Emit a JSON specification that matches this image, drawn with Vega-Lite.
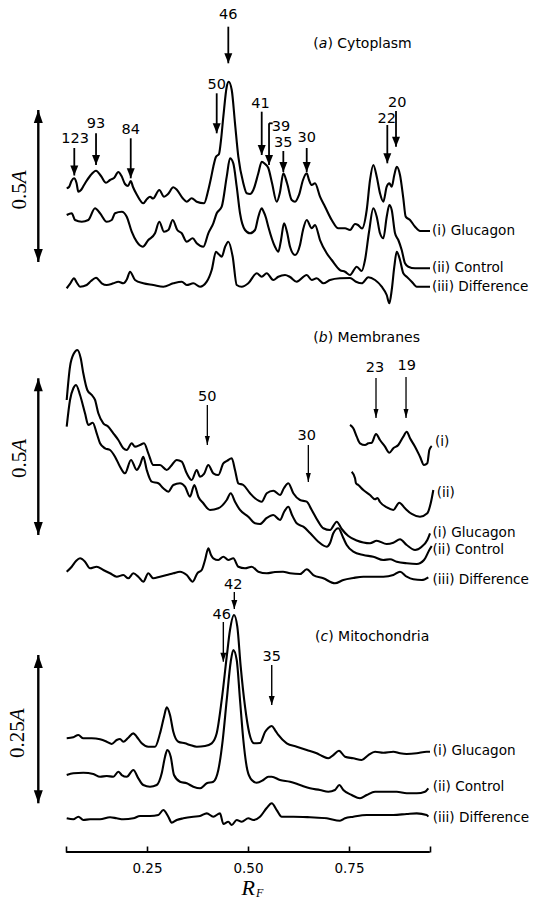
{
"$schema":"https://vega.github.io/schema/vega-lite/v6.json",
"background":"white",
"padding":0,
"spacing":0,
"bounds":"flush",
"config":{"view":{"stroke":null},"font":"DejaVu Sans"},
"datasets":{
"traces":[
{"panel":"a","series":"i","rf":0.0512,"a":0.3806},{"panel":"a","series":"i","rf":0.0569,"a":0.3849},{"panel":"a","series":"i","rf":0.0631,"a":0.4046},{"panel":"a","series":"i","rf":0.0693,"a":0.4135},{"panel":"a","series":"i","rf":0.0755,"a":0.398},{"panel":"a","series":"i","rf":0.08,"a":0.3694},{"panel":"a","series":"i","rf":0.0866,"a":0.375},{"panel":"a","series":"i","rf":0.0941,"a":0.3914},{"panel":"a","series":"i","rf":0.1089,"a":0.4211},{"panel":"a","series":"i","rf":0.1238,"a":0.4385},{"panel":"a","series":"i","rf":0.1361,"a":0.4211},{"panel":"a","series":"i","rf":0.1485,"a":0.399},{"panel":"a","series":"i","rf":0.1584,"a":0.4079},{"panel":"a","series":"i","rf":0.1683,"a":0.4145},{"panel":"a","series":"i","rf":0.179,"a":0.4342},{"panel":"a","series":"i","rf":0.1869,"a":0.4211},{"panel":"a","series":"i","rf":0.1955,"a":0.3947},{"panel":"a","series":"i","rf":0.203,"a":0.3882},{"panel":"a","series":"i","rf":0.2097,"a":0.4046},{"panel":"a","series":"i","rf":0.2153,"a":0.3849},{"panel":"a","series":"i","rf":0.2252,"a":0.3586},{"panel":"a","series":"i","rf":0.2408,"a":0.3313},{"panel":"a","series":"i","rf":0.25,"a":0.3454},{"panel":"a","series":"i","rf":0.2574,"a":0.353},{"panel":"a","series":"i","rf":0.2649,"a":0.347},{"panel":"a","series":"i","rf":0.2804,"a":0.375},{"panel":"a","series":"i","rf":0.2921,"a":0.353},{"panel":"a","series":"i","rf":0.302,"a":0.3618},{"panel":"a","series":"i","rf":0.3151,"a":0.3839},{"panel":"a","series":"i","rf":0.3243,"a":0.375},{"panel":"a","series":"i","rf":0.3384,"a":0.3477},{"panel":"a","series":"i","rf":0.3483,"a":0.3365},{"panel":"a","series":"i","rf":0.3606,"a":0.3477},{"panel":"a","series":"i","rf":0.373,"a":0.3365},{"panel":"a","series":"i","rf":0.3911,"a":0.3313},{"panel":"a","series":"i","rf":0.4017,"a":0.375},{"panel":"a","series":"i","rf":0.4084,"a":0.4145},{"panel":"a","series":"i","rf":0.4141,"a":0.4516},{"panel":"a","series":"i","rf":0.4208,"a":0.4845},{"panel":"a","series":"i","rf":0.4282,"a":0.4934},{"panel":"a","series":"i","rf":0.4332,"a":0.5395},{"panel":"a","series":"i","rf":0.4389,"a":0.6161},{"panel":"a","series":"i","rf":0.4473,"a":0.7148},{"panel":"a","series":"i","rf":0.4522,"a":0.7313},{"panel":"a","series":"i","rf":0.4597,"a":0.7039},{"panel":"a","series":"i","rf":0.4678,"a":0.5944},{"panel":"a","series":"i","rf":0.476,"a":0.4845},{"panel":"a","series":"i","rf":0.4884,"a":0.397},{"panel":"a","series":"i","rf":0.4968,"a":0.3641},{"panel":"a","series":"i","rf":0.505,"a":0.3618},{"panel":"a","series":"i","rf":0.5131,"a":0.375},{"panel":"a","series":"i","rf":0.5255,"a":0.4299},{"panel":"a","series":"i","rf":0.5339,"a":0.4681},{"panel":"a","series":"i","rf":0.5421,"a":0.4605},{"panel":"a","series":"i","rf":0.5502,"a":0.4474},{"panel":"a","series":"i","rf":0.5594,"a":0.398},{"panel":"a","series":"i","rf":0.571,"a":0.3365},{"panel":"a","series":"i","rf":0.5792,"a":0.3684},{"panel":"a","series":"i","rf":0.5874,"a":0.4299},{"panel":"a","series":"i","rf":0.5965,"a":0.398},{"panel":"a","series":"i","rf":0.6082,"a":0.3421},{"panel":"a","series":"i","rf":0.6163,"a":0.3365},{"panel":"a","series":"i","rf":0.6262,"a":0.3586},{"panel":"a","series":"i","rf":0.6361,"a":0.4079},{"panel":"a","series":"i","rf":0.6453,"a":0.4299},{"panel":"a","series":"i","rf":0.651,"a":0.4079},{"panel":"a","series":"i","rf":0.6577,"a":0.3914},{"panel":"a","series":"i","rf":0.6658,"a":0.397},{"panel":"a","series":"i","rf":0.6782,"a":0.353},{"panel":"a","series":"i","rf":0.6906,"a":0.3201},{"panel":"a","series":"i","rf":0.7072,"a":0.2763},{"panel":"a","series":"i","rf":0.7235,"a":0.249},{"panel":"a","series":"i","rf":0.7401,"a":0.249},{"panel":"a","series":"i","rf":0.7525,"a":0.2434},{"panel":"a","series":"i","rf":0.7649,"a":0.2632},{"panel":"a","series":"i","rf":0.7723,"a":0.2599},{"panel":"a","series":"i","rf":0.7822,"a":0.2484},{"panel":"a","series":"i","rf":0.7938,"a":0.3092},{"panel":"a","series":"i","rf":0.802,"a":0.4079},{"panel":"a","series":"i","rf":0.8101,"a":0.4572},{"panel":"a","series":"i","rf":0.8186,"a":0.4188},{"panel":"a","series":"i","rf":0.8267,"a":0.3641},{"panel":"a","series":"i","rf":0.8349,"a":0.3365},{"panel":"a","series":"i","rf":0.8433,"a":0.3859},{"panel":"a","series":"i","rf":0.8498,"a":0.397},{"panel":"a","series":"i","rf":0.8557,"a":0.3859},{"panel":"a","series":"i","rf":0.8621,"a":0.4243},{"panel":"a","series":"i","rf":0.8681,"a":0.4516},{"panel":"a","series":"i","rf":0.8762,"a":0.4243},{"panel":"a","series":"i","rf":0.8844,"a":0.3477},{"panel":"a","series":"i","rf":0.8903,"a":0.2872},{"panel":"a","series":"i","rf":0.901,"a":0.2763},{"panel":"a","series":"i","rf":0.9134,"a":0.2543},{"panel":"a","series":"i","rf":0.9257,"a":0.2401},{"panel":"a","series":"i","rf":0.9505,"a":0.2401},
{"panel":"a","series":"ii","rf":0.0512,"a":0.2928},{"panel":"a","series":"ii","rf":0.0636,"a":0.2984},{"panel":"a","series":"ii","rf":0.0718,"a":0.2763},{"panel":"a","series":"ii","rf":0.0884,"a":0.2707},{"panel":"a","series":"ii","rf":0.1047,"a":0.2763},{"panel":"a","series":"ii","rf":0.1213,"a":0.3148},{"panel":"a","series":"ii","rf":0.1337,"a":0.2984},{"panel":"a","series":"ii","rf":0.1502,"a":0.2707},{"panel":"a","series":"ii","rf":0.1626,"a":0.2763},{"panel":"a","series":"ii","rf":0.1708,"a":0.2984},{"panel":"a","series":"ii","rf":0.1874,"a":0.3036},{"panel":"a","series":"ii","rf":0.1998,"a":0.2872},{"panel":"a","series":"ii","rf":0.2121,"a":0.2378},{"panel":"a","series":"ii","rf":0.2245,"a":0.2049},{"panel":"a","series":"ii","rf":0.2394,"a":0.1885},{"panel":"a","series":"ii","rf":0.2532,"a":0.2105},{"panel":"a","series":"ii","rf":0.2698,"a":0.2326},{"panel":"a","series":"ii","rf":0.2804,"a":0.2707},{"panel":"a","series":"ii","rf":0.2921,"a":0.2378},{"panel":"a","series":"ii","rf":0.3027,"a":0.2434},{"panel":"a","series":"ii","rf":0.3136,"a":0.2763},{"panel":"a","series":"ii","rf":0.325,"a":0.2434},{"panel":"a","series":"ii","rf":0.3359,"a":0.2326},{"panel":"a","series":"ii","rf":0.3483,"a":0.2049},{"panel":"a","series":"ii","rf":0.3631,"a":0.2161},{"panel":"a","series":"ii","rf":0.373,"a":0.1997},{"panel":"a","series":"ii","rf":0.3894,"a":0.1885},{"panel":"a","series":"ii","rf":0.4017,"a":0.2326},{"panel":"a","series":"ii","rf":0.4141,"a":0.2655},{"panel":"a","series":"ii","rf":0.4225,"a":0.2984},{"panel":"a","series":"ii","rf":0.4349,"a":0.3201},{"panel":"a","series":"ii","rf":0.4473,"a":0.4188},{"panel":"a","series":"ii","rf":0.4554,"a":0.4793},{"panel":"a","series":"ii","rf":0.4636,"a":0.4628},{"panel":"a","series":"ii","rf":0.472,"a":0.3859},{"panel":"a","series":"ii","rf":0.4802,"a":0.2984},{"panel":"a","series":"ii","rf":0.4926,"a":0.2434},{"panel":"a","series":"ii","rf":0.505,"a":0.2326},{"panel":"a","series":"ii","rf":0.5173,"a":0.2434},{"panel":"a","series":"ii","rf":0.5248,"a":0.2829},{"panel":"a","series":"ii","rf":0.5339,"a":0.3148},{"panel":"a","series":"ii","rf":0.5379,"a":0.3059},{"panel":"a","series":"ii","rf":0.5446,"a":0.2829},{"panel":"a","series":"ii","rf":0.5502,"a":0.2543},{"panel":"a","series":"ii","rf":0.5668,"a":0.1885},{"panel":"a","series":"ii","rf":0.575,"a":0.172},{"panel":"a","series":"ii","rf":0.5817,"a":0.2105},{"panel":"a","series":"ii","rf":0.5891,"a":0.2655},{"panel":"a","series":"ii","rf":0.5965,"a":0.2368},{"panel":"a","series":"ii","rf":0.604,"a":0.1885},{"panel":"a","series":"ii","rf":0.6163,"a":0.1612},{"panel":"a","series":"ii","rf":0.6287,"a":0.1941},{"panel":"a","series":"ii","rf":0.6361,"a":0.2434},{"panel":"a","series":"ii","rf":0.6453,"a":0.2763},{"panel":"a","series":"ii","rf":0.6577,"a":0.249},{"panel":"a","series":"ii","rf":0.6658,"a":0.2599},{"panel":"a","series":"ii","rf":0.6782,"a":0.2105},{"panel":"a","series":"ii","rf":0.6948,"a":0.1668},{"panel":"a","series":"ii","rf":0.7072,"a":0.1447},{"panel":"a","series":"ii","rf":0.7277,"a":0.1118},{"panel":"a","series":"ii","rf":0.7401,"a":0.1063},{"panel":"a","series":"ii","rf":0.7525,"a":0.0954},{"panel":"a","series":"ii","rf":0.7691,"a":0.1227},{"panel":"a","series":"ii","rf":0.7814,"a":0.1086},{"panel":"a","series":"ii","rf":0.7896,"a":0.1447},{"panel":"a","series":"ii","rf":0.7995,"a":0.2368},{"panel":"a","series":"ii","rf":0.8101,"a":0.3148},{"panel":"a","series":"ii","rf":0.8186,"a":0.2872},{"panel":"a","series":"ii","rf":0.8267,"a":0.2326},{"panel":"a","series":"ii","rf":0.8349,"a":0.2161},{"panel":"a","series":"ii","rf":0.8433,"a":0.2872},{"panel":"a","series":"ii","rf":0.8498,"a":0.3257},{"panel":"a","series":"ii","rf":0.8557,"a":0.3092},{"panel":"a","series":"ii","rf":0.8639,"a":0.2326},{"panel":"a","series":"ii","rf":0.872,"a":0.2105},{"panel":"a","series":"ii","rf":0.8804,"a":0.1776},{"panel":"a","series":"ii","rf":0.8886,"a":0.1339},{"panel":"a","series":"ii","rf":0.8968,"a":0.1227},{"panel":"a","series":"ii","rf":0.9134,"a":0.1174},{"panel":"a","series":"ii","rf":0.9505,"a":0.1174},
{"panel":"a","series":"iii","rf":0.0512,"a":0.0516},{"panel":"a","series":"iii","rf":0.0594,"a":0.0658},{"panel":"a","series":"iii","rf":0.0693,"a":0.0845},{"panel":"a","series":"iii","rf":0.0767,"a":0.0691},{"panel":"a","series":"iii","rf":0.0842,"a":0.0569},{"panel":"a","series":"iii","rf":0.1007,"a":0.0625},{"panel":"a","series":"iii","rf":0.1114,"a":0.0757},{"panel":"a","series":"iii","rf":0.1238,"a":0.0865},{"panel":"a","series":"iii","rf":0.1379,"a":0.0681},{"panel":"a","series":"iii","rf":0.1502,"a":0.0625},{"panel":"a","series":"iii","rf":0.1666,"a":0.0681},{"panel":"a","series":"iii","rf":0.179,"a":0.0734},{"panel":"a","series":"iii","rf":0.1913,"a":0.0681},{"panel":"a","series":"iii","rf":0.2005,"a":0.0822},{"panel":"a","series":"iii","rf":0.2079,"a":0.1063},{"panel":"a","series":"iii","rf":0.2203,"a":0.0789},{"panel":"a","series":"iii","rf":0.2408,"a":0.0681},{"panel":"a","series":"iii","rf":0.2656,"a":0.0625},{"panel":"a","series":"iii","rf":0.2903,"a":0.0569},{"panel":"a","series":"iii","rf":0.3151,"a":0.0681},{"panel":"a","series":"iii","rf":0.3359,"a":0.0734},{"panel":"a","series":"iii","rf":0.3483,"a":0.0625},{"panel":"a","series":"iii","rf":0.3646,"a":0.0681},{"panel":"a","series":"iii","rf":0.3812,"a":0.0569},{"panel":"a","series":"iii","rf":0.3978,"a":0.0734},{"panel":"a","series":"iii","rf":0.4101,"a":0.1118},{"panel":"a","series":"iii","rf":0.4208,"a":0.172},{"panel":"a","series":"iii","rf":0.427,"a":0.1645},{"panel":"a","series":"iii","rf":0.4349,"a":0.1556},{"panel":"a","series":"iii","rf":0.4431,"a":0.1875},{"panel":"a","series":"iii","rf":0.4512,"a":0.2049},{"panel":"a","series":"iii","rf":0.4621,"a":0.1556},{"panel":"a","series":"iii","rf":0.472,"a":0.0625},{"panel":"a","series":"iii","rf":0.4844,"a":0.0569},{"panel":"a","series":"iii","rf":0.5007,"a":0.0681},{"panel":"a","series":"iii","rf":0.5215,"a":0.101},{"panel":"a","series":"iii","rf":0.5339,"a":0.0898},{"panel":"a","series":"iii","rf":0.5463,"a":0.101},{"panel":"a","series":"iii","rf":0.5626,"a":0.0789},{"panel":"a","series":"iii","rf":0.575,"a":0.0898},{"panel":"a","series":"iii","rf":0.5916,"a":0.0954},{"panel":"a","series":"iii","rf":0.604,"a":0.0888},{"panel":"a","series":"iii","rf":0.6205,"a":0.0734},{"panel":"a","series":"iii","rf":0.6453,"a":0.0954},{"panel":"a","series":"iii","rf":0.6577,"a":0.0789},{"panel":"a","series":"iii","rf":0.67,"a":0.0845},{"panel":"a","series":"iii","rf":0.6864,"a":0.0681},{"panel":"a","series":"iii","rf":0.703,"a":0.0789},{"panel":"a","series":"iii","rf":0.7277,"a":0.0845},{"panel":"a","series":"iii","rf":0.7525,"a":0.0855},{"panel":"a","series":"iii","rf":0.7673,"a":0.0734},{"panel":"a","series":"iii","rf":0.7814,"a":0.0681},{"panel":"a","series":"iii","rf":0.7978,"a":0.0878},{"panel":"a","series":"iii","rf":0.8144,"a":0.0789},{"panel":"a","series":"iii","rf":0.8309,"a":0.0569},{"panel":"a","series":"iii","rf":0.8433,"a":0.0296},{"panel":"a","series":"iii","rf":0.8498,"a":0.0023},{"panel":"a","series":"iii","rf":0.8557,"a":0.0461},{"panel":"a","series":"iii","rf":0.8621,"a":0.1227},{"panel":"a","series":"iii","rf":0.8681,"a":0.172},{"panel":"a","series":"iii","rf":0.8762,"a":0.1447},{"panel":"a","series":"iii","rf":0.8844,"a":0.101},{"panel":"a","series":"iii","rf":0.8928,"a":0.0898},{"panel":"a","series":"iii","rf":0.9052,"a":0.0734},{"panel":"a","series":"iii","rf":0.9176,"a":0.0569},{"panel":"a","series":"iii","rf":0.9505,"a":0.0569},
{"panel":"b","series":"i","rf":0.0512,"a":0.574},{"panel":"b","series":"i","rf":0.0594,"a":0.6802},{"panel":"b","series":"i","rf":0.0693,"a":0.7229},{"panel":"b","series":"i","rf":0.0775,"a":0.7334},{"panel":"b","series":"i","rf":0.0859,"a":0.707},{"panel":"b","series":"i","rf":0.0923,"a":0.6591},{"panel":"b","series":"i","rf":0.1022,"a":0.6059},{"panel":"b","series":"i","rf":0.1131,"a":0.5899},{"panel":"b","series":"i","rf":0.1213,"a":0.574},{"panel":"b","series":"i","rf":0.1295,"a":0.5316},{"panel":"b","series":"i","rf":0.1418,"a":0.4997},{"panel":"b","series":"i","rf":0.1542,"a":0.4888},{"panel":"b","series":"i","rf":0.1666,"a":0.4678},{"panel":"b","series":"i","rf":0.179,"a":0.4464},{"panel":"b","series":"i","rf":0.1913,"a":0.42},{"panel":"b","series":"i","rf":0.1998,"a":0.4145},{"panel":"b","series":"i","rf":0.2121,"a":0.4359},{"panel":"b","series":"i","rf":0.2203,"a":0.4251},{"panel":"b","series":"i","rf":0.2327,"a":0.4305},{"panel":"b","series":"i","rf":0.2426,"a":0.4359},{"panel":"b","series":"i","rf":0.2532,"a":0.404},{"panel":"b","series":"i","rf":0.2656,"a":0.3667},{"panel":"b","series":"i","rf":0.2822,"a":0.3667},{"panel":"b","series":"i","rf":0.2988,"a":0.3508},{"panel":"b","series":"i","rf":0.3094,"a":0.3635},{"panel":"b","series":"i","rf":0.3235,"a":0.3827},{"panel":"b","series":"i","rf":0.3359,"a":0.3772},{"panel":"b","series":"i","rf":0.3483,"a":0.3402},{"panel":"b","series":"i","rf":0.3606,"a":0.3189},{"panel":"b","series":"i","rf":0.373,"a":0.3508},{"panel":"b","series":"i","rf":0.3812,"a":0.3294},{"panel":"b","series":"i","rf":0.3911,"a":0.338},{"panel":"b","series":"i","rf":0.4017,"a":0.3667},{"panel":"b","series":"i","rf":0.4141,"a":0.3402},{"panel":"b","series":"i","rf":0.4265,"a":0.3348},{"panel":"b","series":"i","rf":0.4389,"a":0.3721},{"panel":"b","series":"i","rf":0.448,"a":0.3795},{"panel":"b","series":"i","rf":0.4597,"a":0.3881},{"panel":"b","series":"i","rf":0.4678,"a":0.3508},{"panel":"b","series":"i","rf":0.476,"a":0.3084},{"panel":"b","series":"i","rf":0.4884,"a":0.3029},{"panel":"b","series":"i","rf":0.505,"a":0.2765},{"panel":"b","series":"i","rf":0.5173,"a":0.2605},{"panel":"b","series":"i","rf":0.5339,"a":0.2497},{"panel":"b","series":"i","rf":0.5463,"a":0.2765},{"panel":"b","series":"i","rf":0.5626,"a":0.2848},{"panel":"b","series":"i","rf":0.5792,"a":0.271},{"panel":"b","series":"i","rf":0.5891,"a":0.2934},{"panel":"b","series":"i","rf":0.5998,"a":0.3084},{"panel":"b","series":"i","rf":0.6121,"a":0.2765},{"panel":"b","series":"i","rf":0.6287,"a":0.2551},{"panel":"b","series":"i","rf":0.6453,"a":0.2497},{"panel":"b","series":"i","rf":0.6577,"a":0.2232},{"panel":"b","series":"i","rf":0.674,"a":0.1859},{"panel":"b","series":"i","rf":0.6864,"a":0.1649},{"panel":"b","series":"i","rf":0.703,"a":0.1594},{"panel":"b","series":"i","rf":0.7196,"a":0.1859},{"panel":"b","series":"i","rf":0.7319,"a":0.1626},{"panel":"b","series":"i","rf":0.7483,"a":0.1403},{"panel":"b","series":"i","rf":0.7691,"a":0.126},{"panel":"b","series":"i","rf":0.7854,"a":0.1196},{"panel":"b","series":"i","rf":0.802,"a":0.117},{"panel":"b","series":"i","rf":0.8186,"a":0.1253},{"panel":"b","series":"i","rf":0.8433,"a":0.1148},{"panel":"b","series":"i","rf":0.8597,"a":0.1189},{"panel":"b","series":"i","rf":0.8762,"a":0.1298},{"panel":"b","series":"i","rf":0.8928,"a":0.1116},{"panel":"b","series":"i","rf":0.9134,"a":0.0957},{"panel":"b","series":"i","rf":0.93,"a":0.1062},{"panel":"b","series":"i","rf":0.9438,"a":0.1276},{"panel":"b","series":"i","rf":0.9505,"a":0.1489},
{"panel":"b","series":"ii","rf":0.0512,"a":0.4888},{"panel":"b","series":"ii","rf":0.0594,"a":0.574},{"panel":"b","series":"ii","rf":0.0676,"a":0.6113},{"panel":"b","series":"ii","rf":0.0743,"a":0.6218},{"panel":"b","series":"ii","rf":0.0842,"a":0.5899},{"panel":"b","series":"ii","rf":0.0965,"a":0.5316},{"panel":"b","series":"ii","rf":0.1047,"a":0.4943},{"panel":"b","series":"ii","rf":0.1156,"a":0.5016},{"panel":"b","series":"ii","rf":0.1255,"a":0.4678},{"panel":"b","series":"ii","rf":0.1337,"a":0.4359},{"panel":"b","series":"ii","rf":0.146,"a":0.42},{"panel":"b","series":"ii","rf":0.1584,"a":0.4145},{"panel":"b","series":"ii","rf":0.1708,"a":0.3932},{"panel":"b","series":"ii","rf":0.1832,"a":0.3613},{"panel":"b","series":"ii","rf":0.1955,"a":0.3402},{"panel":"b","series":"ii","rf":0.2104,"a":0.3827},{"panel":"b","series":"ii","rf":0.2245,"a":0.3508},{"panel":"b","series":"ii","rf":0.2327,"a":0.3667},{"panel":"b","series":"ii","rf":0.2408,"a":0.3932},{"panel":"b","series":"ii","rf":0.2493,"a":0.3508},{"panel":"b","series":"ii","rf":0.2616,"a":0.3135},{"panel":"b","series":"ii","rf":0.278,"a":0.3084},{"panel":"b","series":"ii","rf":0.2903,"a":0.2924},{"panel":"b","series":"ii","rf":0.3027,"a":0.2816},{"panel":"b","series":"ii","rf":0.3151,"a":0.3029},{"panel":"b","series":"ii","rf":0.3317,"a":0.3084},{"panel":"b","series":"ii","rf":0.3441,"a":0.2975},{"panel":"b","series":"ii","rf":0.3564,"a":0.2656},{"panel":"b","series":"ii","rf":0.3671,"a":0.3029},{"panel":"b","series":"ii","rf":0.377,"a":0.2656},{"panel":"b","series":"ii","rf":0.3894,"a":0.2446},{"panel":"b","series":"ii","rf":0.4059,"a":0.2232},{"panel":"b","series":"ii","rf":0.4265,"a":0.2286},{"panel":"b","series":"ii","rf":0.4473,"a":0.2551},{"panel":"b","series":"ii","rf":0.4572,"a":0.2765},{"panel":"b","series":"ii","rf":0.4678,"a":0.2497},{"panel":"b","series":"ii","rf":0.4802,"a":0.2232},{"panel":"b","series":"ii","rf":0.5007,"a":0.2019},{"panel":"b","series":"ii","rf":0.5173,"a":0.1808},{"panel":"b","series":"ii","rf":0.5297,"a":0.1786},{"panel":"b","series":"ii","rf":0.5463,"a":0.1977},{"panel":"b","series":"ii","rf":0.5626,"a":0.2073},{"panel":"b","series":"ii","rf":0.5792,"a":0.1913},{"panel":"b","series":"ii","rf":0.5891,"a":0.2168},{"panel":"b","series":"ii","rf":0.5998,"a":0.2337},{"panel":"b","series":"ii","rf":0.6089,"a":0.2073},{"panel":"b","series":"ii","rf":0.6205,"a":0.1808},{"panel":"b","series":"ii","rf":0.6369,"a":0.17},{"panel":"b","series":"ii","rf":0.6535,"a":0.1499},{"panel":"b","series":"ii","rf":0.674,"a":0.1221},{"panel":"b","series":"ii","rf":0.6948,"a":0.1062},{"panel":"b","series":"ii","rf":0.703,"a":0.118},{"panel":"b","series":"ii","rf":0.7111,"a":0.1489},{"panel":"b","series":"ii","rf":0.7235,"a":0.1649},{"panel":"b","series":"ii","rf":0.7359,"a":0.1339},{"panel":"b","series":"ii","rf":0.7443,"a":0.1116},{"panel":"b","series":"ii","rf":0.7606,"a":0.0902},{"panel":"b","series":"ii","rf":0.7854,"a":0.0797},{"panel":"b","series":"ii","rf":0.8101,"a":0.0743},{"panel":"b","series":"ii","rf":0.8349,"a":0.0638},{"panel":"b","series":"ii","rf":0.8515,"a":0.066},{"panel":"b","series":"ii","rf":0.8681,"a":0.0584},{"panel":"b","series":"ii","rf":0.8928,"a":0.0533},{"panel":"b","series":"ii","rf":0.9176,"a":0.051},{"panel":"b","series":"ii","rf":0.9356,"a":0.0638},{"panel":"b","series":"ii","rf":0.9488,"a":0.0957},{"panel":"b","series":"ii","rf":0.9547,"a":0.1084},
{"panel":"b","series":"iii","rf":0.0512,"a":0.0265},{"panel":"b","series":"iii","rf":0.0636,"a":0.0424},{"panel":"b","series":"iii","rf":0.0743,"a":0.0606},{"panel":"b","series":"iii","rf":0.0842,"a":0.0692},{"panel":"b","series":"iii","rf":0.0965,"a":0.0584},{"panel":"b","series":"iii","rf":0.1089,"a":0.0373},{"panel":"b","series":"iii","rf":0.1255,"a":0.0424},{"panel":"b","series":"iii","rf":0.1418,"a":0.0319},{"panel":"b","series":"iii","rf":0.1584,"a":0.0214},{"panel":"b","series":"iii","rf":0.175,"a":0.0105},{"panel":"b","series":"iii","rf":0.1913,"a":0.0159},{"panel":"b","series":"iii","rf":0.2037,"a":0.0054},{"panel":"b","series":"iii","rf":0.2161,"a":0.0214},{"panel":"b","series":"iii","rf":0.2285,"a":0.0105},{"panel":"b","series":"iii","rf":0.2408,"a":-0.0054},{"panel":"b","series":"iii","rf":0.2532,"a":0.0214},{"panel":"b","series":"iii","rf":0.2656,"a":0.0054},{"panel":"b","series":"iii","rf":0.2822,"a":0.0105},{"panel":"b","series":"iii","rf":0.2988,"a":0.0159},{"panel":"b","series":"iii","rf":0.3151,"a":0.0214},{"panel":"b","series":"iii","rf":0.3317,"a":0.0265},{"panel":"b","series":"iii","rf":0.3483,"a":0.0159},{"panel":"b","series":"iii","rf":0.3631,"a":-0.0054},{"panel":"b","series":"iii","rf":0.3745,"a":0.0214},{"panel":"b","series":"iii","rf":0.3854,"a":0.0319},{"panel":"b","series":"iii","rf":0.3936,"a":0.0638},{"panel":"b","series":"iii","rf":0.4017,"a":0.1011},{"panel":"b","series":"iii","rf":0.4084,"a":0.0797},{"panel":"b","series":"iii","rf":0.4141,"a":0.0692},{"panel":"b","series":"iii","rf":0.4265,"a":0.0638},{"panel":"b","series":"iii","rf":0.4389,"a":0.0743},{"panel":"b","series":"iii","rf":0.4512,"a":0.0638},{"panel":"b","series":"iii","rf":0.4636,"a":0.0692},{"panel":"b","series":"iii","rf":0.476,"a":0.0424},{"panel":"b","series":"iii","rf":0.4926,"a":0.0373},{"panel":"b","series":"iii","rf":0.5092,"a":0.0424},{"panel":"b","series":"iii","rf":0.5255,"a":0.0265},{"panel":"b","series":"iii","rf":0.5463,"a":0.0214},{"panel":"b","series":"iii","rf":0.5668,"a":0.0255},{"panel":"b","series":"iii","rf":0.5866,"a":0.0265},{"panel":"b","series":"iii","rf":0.604,"a":0.0214},{"panel":"b","series":"iii","rf":0.6287,"a":0.0191},{"panel":"b","series":"iii","rf":0.6453,"a":0.0341},{"panel":"b","series":"iii","rf":0.6616,"a":0.0159},{"panel":"b","series":"iii","rf":0.6864,"a":0.0054},{"panel":"b","series":"iii","rf":0.7153,"a":-0.0105},{"panel":"b","series":"iii","rf":0.7359,"a":0},{"panel":"b","series":"iii","rf":0.7606,"a":0.0064},{"panel":"b","series":"iii","rf":0.7854,"a":0.0105},{"panel":"b","series":"iii","rf":0.8101,"a":0.0105},{"panel":"b","series":"iii","rf":0.8349,"a":0.0105},{"panel":"b","series":"iii","rf":0.8597,"a":0.0159},{"panel":"b","series":"iii","rf":0.8762,"a":0.0265},{"panel":"b","series":"iii","rf":0.8928,"a":0.0105},{"panel":"b","series":"iii","rf":0.9092,"a":0.0022},{"panel":"b","series":"iii","rf":0.93,"a":0},{"panel":"b","series":"iii","rf":0.9463,"a":0.0086},
{"panel":"b","series":"inset i","rf":0.7525,"a":0.4943},{"panel":"b","series":"inset i","rf":0.7606,"a":0.4837},{"panel":"b","series":"inset i","rf":0.7691,"a":0.457},{"panel":"b","series":"inset i","rf":0.7772,"a":0.4359},{"panel":"b","series":"inset i","rf":0.7896,"a":0.4305},{"panel":"b","series":"inset i","rf":0.7978,"a":0.4359},{"panel":"b","series":"inset i","rf":0.8062,"a":0.4378},{"panel":"b","series":"inset i","rf":0.8168,"a":0.4656},{"panel":"b","series":"inset i","rf":0.8267,"a":0.4464},{"panel":"b","series":"inset i","rf":0.8391,"a":0.4251},{"panel":"b","series":"inset i","rf":0.8498,"a":0.4059},{"panel":"b","series":"inset i","rf":0.8597,"a":0.42},{"panel":"b","series":"inset i","rf":0.872,"a":0.4305},{"panel":"b","series":"inset i","rf":0.8844,"a":0.457},{"panel":"b","series":"inset i","rf":0.8928,"a":0.4729},{"panel":"b","series":"inset i","rf":0.901,"a":0.4518},{"panel":"b","series":"inset i","rf":0.9134,"a":0.4251},{"panel":"b","series":"inset i","rf":0.9257,"a":0.3932},{"panel":"b","series":"inset i","rf":0.9356,"a":0.3667},{"panel":"b","series":"inset i","rf":0.9438,"a":0.3721},{"panel":"b","series":"inset i","rf":0.9488,"a":0.4145},{"panel":"b","series":"inset i","rf":0.9547,"a":0.4273},
{"panel":"b","series":"inset ii","rf":0.7567,"a":0.3453},{"panel":"b","series":"inset ii","rf":0.7649,"a":0.3243},{"panel":"b","series":"inset ii","rf":0.7673,"a":0.3084},{"panel":"b","series":"inset ii","rf":0.773,"a":0.3029},{"panel":"b","series":"inset ii","rf":0.7854,"a":0.287},{"panel":"b","series":"inset ii","rf":0.802,"a":0.271},{"panel":"b","series":"inset ii","rf":0.8144,"a":0.2573},{"panel":"b","series":"inset ii","rf":0.8205,"a":0.2615},{"panel":"b","series":"inset ii","rf":0.8267,"a":0.2487},{"panel":"b","series":"inset ii","rf":0.8433,"a":0.2318},{"panel":"b","series":"inset ii","rf":0.8597,"a":0.2232},{"panel":"b","series":"inset ii","rf":0.8745,"a":0.2465},{"panel":"b","series":"inset ii","rf":0.8886,"a":0.2286},{"panel":"b","series":"inset ii","rf":0.9052,"a":0.2105},{"panel":"b","series":"inset ii","rf":0.9257,"a":0.2019},{"panel":"b","series":"inset ii","rf":0.9438,"a":0.2127},{"panel":"b","series":"inset ii","rf":0.9522,"a":0.2446},{"panel":"b","series":"inset ii","rf":0.9587,"a":0.287},
{"panel":"c","series":"i","rf":0.0512,"a":0.1923},{"panel":"c","series":"i","rf":0.0676,"a":0.194},{"panel":"c","series":"i","rf":0.08,"a":0.1979},{"panel":"c","series":"i","rf":0.0923,"a":0.1923},{"panel":"c","series":"i","rf":0.1131,"a":0.1923},{"panel":"c","series":"i","rf":0.1337,"a":0.1906},{"panel":"c","series":"i","rf":0.1502,"a":0.1865},{"panel":"c","series":"i","rf":0.1626,"a":0.1826},{"panel":"c","series":"i","rf":0.175,"a":0.1894},{"panel":"c","series":"i","rf":0.1832,"a":0.1911},{"panel":"c","series":"i","rf":0.1913,"a":0.1865},{"panel":"c","series":"i","rf":0.203,"a":0.1928},{"panel":"c","series":"i","rf":0.2161,"a":0.2007},{"panel":"c","series":"i","rf":0.2245,"a":0.195},{"panel":"c","series":"i","rf":0.2369,"a":0.1838},{"panel":"c","series":"i","rf":0.2532,"a":0.1781},{"panel":"c","series":"i","rf":0.2698,"a":0.1781},{"panel":"c","series":"i","rf":0.2822,"a":0.2007},{"panel":"c","series":"i","rf":0.2921,"a":0.2288},{"panel":"c","series":"i","rf":0.2988,"a":0.2447},{"panel":"c","series":"i","rf":0.3069,"a":0.2317},{"panel":"c","series":"i","rf":0.3151,"a":0.2034},{"panel":"c","series":"i","rf":0.3275,"a":0.1865},{"panel":"c","series":"i","rf":0.3441,"a":0.1838},{"panel":"c","series":"i","rf":0.3564,"a":0.181},{"panel":"c","series":"i","rf":0.373,"a":0.1781},{"panel":"c","series":"i","rf":0.3936,"a":0.1793},{"panel":"c","series":"i","rf":0.4101,"a":0.1838},{"panel":"c","series":"i","rf":0.4225,"a":0.2007},{"panel":"c","series":"i","rf":0.4349,"a":0.2571},{"panel":"c","series":"i","rf":0.4473,"a":0.3303},{"panel":"c","series":"i","rf":0.4554,"a":0.3754},{"panel":"c","series":"i","rf":0.4653,"a":0.4008},{"panel":"c","series":"i","rf":0.4735,"a":0.381},{"panel":"c","series":"i","rf":0.4819,"a":0.3134},{"panel":"c","series":"i","rf":0.4926,"a":0.2457},{"panel":"c","series":"i","rf":0.5032,"a":0.2007},{"panel":"c","series":"i","rf":0.5149,"a":0.1838},{"panel":"c","series":"i","rf":0.5297,"a":0.1843},{"panel":"c","series":"i","rf":0.5421,"a":0.2029},{"panel":"c","series":"i","rf":0.5502,"a":0.2097},{"panel":"c","series":"i","rf":0.5587,"a":0.2131},{"panel":"c","series":"i","rf":0.5668,"a":0.2063},{"panel":"c","series":"i","rf":0.575,"a":0.1979},{"panel":"c","series":"i","rf":0.5958,"a":0.1838},{"panel":"c","series":"i","rf":0.6205,"a":0.1781},{"panel":"c","series":"i","rf":0.6453,"a":0.1725},{"panel":"c","series":"i","rf":0.67,"a":0.1669},{"panel":"c","series":"i","rf":0.6832,"a":0.1624},{"panel":"c","series":"i","rf":0.6988,"a":0.1585},{"panel":"c","series":"i","rf":0.7111,"a":0.164},{"panel":"c","series":"i","rf":0.7252,"a":0.1713},{"panel":"c","series":"i","rf":0.7401,"a":0.1612},{"panel":"c","series":"i","rf":0.7606,"a":0.1585},{"panel":"c","series":"i","rf":0.7814,"a":0.1556},{"panel":"c","series":"i","rf":0.7978,"a":0.164},{"panel":"c","series":"i","rf":0.8144,"a":0.1696},{"panel":"c","series":"i","rf":0.8349,"a":0.1679},{"panel":"c","series":"i","rf":0.8597,"a":0.1696},{"panel":"c","series":"i","rf":0.8762,"a":0.1669},{"panel":"c","series":"i","rf":0.8928,"a":0.1657},{"panel":"c","series":"i","rf":0.9176,"a":0.1669},{"panel":"c","series":"i","rf":0.9423,"a":0.1696},{"panel":"c","series":"i","rf":0.9505,"a":0.1696},
{"panel":"c","series":"ii","rf":0.0512,"a":0.1302},{"panel":"c","series":"ii","rf":0.0676,"a":0.1331},{"panel":"c","series":"ii","rf":0.0923,"a":0.1341},{"panel":"c","series":"ii","rf":0.1171,"a":0.1319},{"panel":"c","series":"ii","rf":0.1337,"a":0.1273},{"panel":"c","series":"ii","rf":0.1502,"a":0.1285},{"panel":"c","series":"ii","rf":0.1666,"a":0.1273},{"panel":"c","series":"ii","rf":0.179,"a":0.1358},{"panel":"c","series":"ii","rf":0.1874,"a":0.1302},{"panel":"c","series":"ii","rf":0.1998,"a":0.1273},{"panel":"c","series":"ii","rf":0.2161,"a":0.1387},{"panel":"c","series":"ii","rf":0.2285,"a":0.1246},{"panel":"c","series":"ii","rf":0.2408,"a":0.1133},{"panel":"c","series":"ii","rf":0.2574,"a":0.1104},{"panel":"c","series":"ii","rf":0.274,"a":0.1133},{"panel":"c","series":"ii","rf":0.2864,"a":0.1331},{"panel":"c","series":"ii","rf":0.2946,"a":0.1612},{"panel":"c","series":"ii","rf":0.3002,"a":0.1725},{"panel":"c","series":"ii","rf":0.3087,"a":0.1612},{"panel":"c","series":"ii","rf":0.3168,"a":0.1302},{"panel":"c","series":"ii","rf":0.3317,"a":0.1189},{"panel":"c","series":"ii","rf":0.3483,"a":0.1162},{"panel":"c","series":"ii","rf":0.3646,"a":0.1104},{"panel":"c","series":"ii","rf":0.3812,"a":0.1077},{"panel":"c","series":"ii","rf":0.3978,"a":0.1162},{"panel":"c","series":"ii","rf":0.4141,"a":0.1189},{"panel":"c","series":"ii","rf":0.4265,"a":0.1387},{"panel":"c","series":"ii","rf":0.4374,"a":0.1894},{"panel":"c","series":"ii","rf":0.4473,"a":0.2571},{"panel":"c","series":"ii","rf":0.4572,"a":0.3218},{"panel":"c","series":"ii","rf":0.4636,"a":0.3416},{"panel":"c","series":"ii","rf":0.472,"a":0.3247},{"panel":"c","series":"ii","rf":0.4802,"a":0.2571},{"panel":"c","series":"ii","rf":0.4884,"a":0.1894},{"panel":"c","series":"ii","rf":0.4983,"a":0.1387},{"panel":"c","series":"ii","rf":0.5092,"a":0.1218},{"panel":"c","series":"ii","rf":0.5215,"a":0.1172},{"panel":"c","series":"ii","rf":0.5379,"a":0.1218},{"panel":"c","series":"ii","rf":0.5502,"a":0.1273},{"panel":"c","series":"ii","rf":0.5587,"a":0.1273},{"panel":"c","series":"ii","rf":0.5792,"a":0.1218},{"panel":"c","series":"ii","rf":0.604,"a":0.1189},{"panel":"c","series":"ii","rf":0.6287,"a":0.1133},{"panel":"c","series":"ii","rf":0.6535,"a":0.1077},{"panel":"c","series":"ii","rf":0.6782,"a":0.1049},{"panel":"c","series":"ii","rf":0.6988,"a":0.102},{"panel":"c","series":"ii","rf":0.7153,"a":0.1049},{"panel":"c","series":"ii","rf":0.726,"a":0.1133},{"panel":"c","series":"ii","rf":0.7359,"a":0.1049},{"panel":"c","series":"ii","rf":0.7567,"a":0.0964},{"panel":"c","series":"ii","rf":0.7772,"a":0.0908},{"panel":"c","series":"ii","rf":0.7938,"a":0.0964},{"panel":"c","series":"ii","rf":0.8144,"a":0.102},{"panel":"c","series":"ii","rf":0.8433,"a":0.102},{"panel":"c","series":"ii","rf":0.8681,"a":0.102},{"panel":"c","series":"ii","rf":0.8928,"a":0.0993},{"panel":"c","series":"ii","rf":0.9176,"a":0.0993},{"panel":"c","series":"ii","rf":0.9381,"a":0.102},{"panel":"c","series":"ii","rf":0.9463,"a":0.1077},
{"panel":"c","series":"iii","rf":0.0512,"a":0.057},{"panel":"c","series":"iii","rf":0.0676,"a":0.0553},{"panel":"c","series":"iii","rf":0.08,"a":0.0597},{"panel":"c","series":"iii","rf":0.0923,"a":0.0541},{"panel":"c","series":"iii","rf":0.1089,"a":0.0553},{"panel":"c","series":"iii","rf":0.1337,"a":0.0553},{"panel":"c","series":"iii","rf":0.1584,"a":0.0587},{"panel":"c","series":"iii","rf":0.175,"a":0.057},{"panel":"c","series":"iii","rf":0.1913,"a":0.0553},{"panel":"c","series":"iii","rf":0.2161,"a":0.057},{"panel":"c","series":"iii","rf":0.2327,"a":0.0609},{"panel":"c","series":"iii","rf":0.2574,"a":0.0609},{"panel":"c","series":"iii","rf":0.278,"a":0.0626},{"panel":"c","series":"iii","rf":0.2903,"a":0.071},{"panel":"c","series":"iii","rf":0.3027,"a":0.0597},{"panel":"c","series":"iii","rf":0.3111,"a":0.0496},{"panel":"c","series":"iii","rf":0.3235,"a":0.0541},{"panel":"c","series":"iii","rf":0.3399,"a":0.057},{"panel":"c","series":"iii","rf":0.3646,"a":0.0597},{"panel":"c","series":"iii","rf":0.3812,"a":0.0609},{"panel":"c","series":"iii","rf":0.3978,"a":0.0654},{"panel":"c","series":"iii","rf":0.4141,"a":0.0597},{"panel":"c","series":"iii","rf":0.4307,"a":0.0654},{"panel":"c","series":"iii","rf":0.4389,"a":0.0474},{"panel":"c","series":"iii","rf":0.4512,"a":0.0512},{"panel":"c","series":"iii","rf":0.4597,"a":0.0457},{"panel":"c","series":"iii","rf":0.472,"a":0.0541},{"panel":"c","series":"iii","rf":0.4844,"a":0.0512},{"panel":"c","series":"iii","rf":0.5007,"a":0.057},{"panel":"c","series":"iii","rf":0.5131,"a":0.0541},{"panel":"c","series":"iii","rf":0.5297,"a":0.0597},{"panel":"c","series":"iii","rf":0.5463,"a":0.0744},{"panel":"c","series":"iii","rf":0.5587,"a":0.0824},{"panel":"c","series":"iii","rf":0.571,"a":0.071},{"panel":"c","series":"iii","rf":0.5834,"a":0.0597},{"panel":"c","series":"iii","rf":0.6121,"a":0.0597},{"panel":"c","series":"iii","rf":0.6535,"a":0.0587},{"panel":"c","series":"iii","rf":0.6948,"a":0.057},{"panel":"c","series":"iii","rf":0.7277,"a":0.0529},{"panel":"c","series":"iii","rf":0.7401,"a":0.057},{"panel":"c","series":"iii","rf":0.7606,"a":0.0597},{"panel":"c","series":"iii","rf":0.7938,"a":0.0626},{"panel":"c","series":"iii","rf":0.8267,"a":0.0626},{"panel":"c","series":"iii","rf":0.8597,"a":0.0626},{"panel":"c","series":"iii","rf":0.8928,"a":0.0643},{"panel":"c","series":"iii","rf":0.9176,"a":0.0654},{"panel":"c","series":"iii","rf":0.9423,"a":0.0626},{"panel":"c","series":"iii","rf":0.9463,"a":0.0597}
],
"arrows":[
{"panel":"a","label":"123","rf":0.07,"a":0.5132,"a2":0.4227},{"panel":"a","label":"93","rf":0.1238,"a":0.5615,"a2":0.4572},{"panel":"a","label":"84","rf":0.2097,"a":0.5451,"a2":0.4135},{"panel":"a","label":"50","rf":0.4225,"a":0.6931,"a2":0.5615},{"panel":"a","label":"46","rf":0.4512,"a":0.9122,"a2":0.7918},{"panel":"a","label":"41","rf":0.5339,"a":0.6326,"a2":0.4901},{"panel":"a","label":"39","rf":0.552,"a":0.5944,"a2":0.4572},{"panel":"a","label":"35","rf":0.5874,"a":0.5033,"a2":0.4342},{"panel":"a","label":"30","rf":0.6453,"a":0.5132,"a2":0.4342},{"panel":"a","label":"22","rf":0.8448,"a":0.5888,"a2":0.4628},{"panel":"a","label":"20","rf":0.8663,"a":0.6349,"a2":0.5174},
{"panel":"b","label":"50","rf":0.3993,"a":0.558,"a2":0.4305},{"panel":"b","label":"30","rf":0.6493,"a":0.4305,"a2":0.3125},{"panel":"b","label":"23","rf":0.8168,"a":0.6441,"a2":0.5166},{"panel":"b","label":"19","rf":0.8911,"a":0.6473,"a2":0.5166},
{"panel":"c","label":"42","rf":0.4661,"a":0.4397,"a2":0.411},{"panel":"c","label":"46","rf":0.4389,"a":0.389,"a2":0.3218},{"panel":"c","label":"35","rf":0.5587,"a":0.3162,"a2":0.2486}
],
"scalebars":[
{"panel":"a","rf":-0.0191,"a":0.1382,"a2":0.6382},
{"panel":"b","rf":-0.0191,"a":0.1435,"a2":0.6432},
{"panel":"c","rf":-0.0191,"a":0.0824,"a2":0.3332}
],
"texts":[
{"panel":"a","kind":"num","rf":0.0718,"a":0.5428,"text":"123"},{"panel":"a","kind":"num","rf":0.1238,"a":0.5914,"text":"93"},{"panel":"a","kind":"num","rf":0.2097,"a":0.5724,"text":"84"},{"panel":"a","kind":"num","rf":0.4225,"a":0.7204,"text":"50"},{"panel":"a","kind":"num","rf":0.4512,"a":0.9497,"text":"46"},{"panel":"a","kind":"num","rf":0.5309,"a":0.6586,"text":"41"},{"panel":"a","kind":"num","rf":0.5817,"a":0.5822,"text":"39"},{"panel":"a","kind":"num","rf":0.5874,"a":0.528,"text":"35"},{"panel":"a","kind":"num","rf":0.6453,"a":0.547,"text":"30"},{"panel":"a","kind":"num","rf":0.8433,"a":0.6095,"text":"22"},{"panel":"a","kind":"num","rf":0.8696,"a":0.6602,"text":"20"},
{"panel":"a","kind":"trace","rf":0.9554,"a":0.2401,"text":"(i) Glucagon"},{"panel":"a","kind":"trace","rf":0.9554,"a":0.1194,"text":"(ii) Control"},{"panel":"a","kind":"trace","rf":0.9554,"a":0.0569,"text":"(iii) Difference"},
{"panel":"a","kind":"title","rf":0.6616,"a":0.8553,"text":"("},{"panel":"a","kind":"titleit","rf":0.6752,"a":0.8553,"text":"a"},{"panel":"a","kind":"title","rf":0.6965,"a":0.8553,"text":") Cytoplasm"},
{"panel":"a","kind":"scale","rf":-0.0644,"a":0.3109,"text":"0.5"},{"panel":"a","kind":"scaleit","rf":-0.0644,"a":0.3974,"text":"A"},
{"panel":"b","kind":"num","rf":0.3993,"a":0.5845,"text":"50"},{"panel":"b","kind":"num","rf":0.6453,"a":0.4592,"text":"30"},{"panel":"b","kind":"num","rf":0.8144,"a":0.6751,"text":"23"},{"panel":"b","kind":"num","rf":0.8928,"a":0.6824,"text":"19"},
{"panel":"b","kind":"trace","rf":0.9567,"a":0.1489,"text":"(i) Glucagon"},{"panel":"b","kind":"trace","rf":0.9567,"a":0.0957,"text":"(ii) Control"},{"panel":"b","kind":"trace","rf":0.9567,"a":0.0,"text":"(iii) Difference"},{"panel":"b","kind":"trace","rf":0.9629,"a":0.441,"text":"(i)"},{"panel":"b","kind":"trace","rf":0.9671,"a":0.2784,"text":"(ii)"},
{"panel":"b","kind":"title","rf":0.6616,"a":0.7707,"text":"("},{"panel":"b","kind":"titleit","rf":0.6752,"a":0.7707,"text":"b"},{"panel":"b","kind":"title","rf":0.6972,"a":0.7707,"text":") Membranes"},
{"panel":"b","kind":"scale","rf":-0.0644,"a":0.3253,"text":"0.5"},{"panel":"b","kind":"scaleit","rf":-0.0644,"a":0.409,"text":"A"},
{"panel":"c","kind":"num","rf":0.4636,"a":0.4515,"text":"42"},{"panel":"c","kind":"num","rf":0.4349,"a":0.4008,"text":"46"},{"panel":"c","kind":"num","rf":0.5587,"a":0.3303,"text":"35"},
{"panel":"c","kind":"trace","rf":0.9571,"a":0.1713,"text":"(i) Glucagon"},{"panel":"c","kind":"trace","rf":0.9571,"a":0.1094,"text":"(ii) Control"},{"panel":"c","kind":"trace","rf":0.9571,"a":0.057,"text":"(iii) Difference"},
{"panel":"c","kind":"title","rf":0.6658,"a":0.3641,"text":"("},{"panel":"c","kind":"titleit","rf":0.6794,"a":0.3641,"text":"c"},{"panel":"c","kind":"title","rf":0.6985,"a":0.3641,"text":") Mitochondria"},
{"panel":"c","kind":"scale","rf":-0.0686,"a":0.159,"text":"0.25"},{"panel":"c","kind":"scaleit","rf":-0.0686,"a":0.2211,"text":"A"},
{"panel":"c","kind":"axR","rf":0.5007,"a":-0.0735,"text":"R"},{"panel":"c","kind":"axF","rf":0.529,"a":-0.0757,"text":"F"}
]
},
"vconcat":[
{
"width":537,"height":304,
"encoding":{
"x":{"field":"rf","type":"quantitative","scale":{"domain":[-0.1139,1.2153],"nice":false,"zero":false},"axis":null},
"y":{"field":"a","type":"quantitative","scale":{"domain":[0,1],"nice":false,"zero":false},"axis":null}
},
"layer":[
{"data":{"name":"traces"},"transform":[{"filter":"datum.panel==='a'"}],"mark":{"type":"line","color":"black","strokeWidth":2.1,"interpolate":"monotone"},"encoding":{"detail":{"field":"series","type":"nominal"}}},
{"data":{"name":"arrows"},"transform":[{"filter":"datum.panel==='a'"}],"mark":{"type":"rule","color":"black","strokeWidth":1.8},"encoding":{"y2":{"field":"a2"}}},
{"data":{"name":"arrows"},"transform":[{"filter":"datum.panel==='a'"}],"mark":{"type":"point","shape":"M0,0L-0.5,-1.25L0.5,-1.25Z","size":256,"filled":true,"color":"black","opacity":1,"strokeWidth":0},"encoding":{"y":{"field":"a2","type":"quantitative"}}},
{"data":{"values":[{"rf":0.552,"rf2":0.5611,"a":0.5944}]},"mark":{"type":"rule","color":"black","strokeWidth":1.8},"encoding":{"x2":{"field":"rf2"}}},
{"data":{"name":"scalebars"},"transform":[{"filter":"datum.panel==='a'"}],"mark":{"type":"rule","color":"black","strokeWidth":2.4},"encoding":{"y2":{"field":"a2"}}},
{"data":{"name":"scalebars"},"transform":[{"filter":"datum.panel==='a'"}],"mark":{"type":"point","shape":"M0,0L-0.5,1.45L0.5,1.45Z","size":324,"filled":true,"color":"black","opacity":1,"strokeWidth":0},"encoding":{"y":{"field":"a2","type":"quantitative"}}},
{"data":{"name":"scalebars"},"transform":[{"filter":"datum.panel==='a'"}],"mark":{"type":"point","shape":"M0,0L-0.5,-1.45L0.5,-1.45Z","size":324,"filled":true,"color":"black","opacity":1,"strokeWidth":0}},
{"data":{"name":"texts"},"transform":[{"filter":"datum.panel==='a' && datum.kind==='num'"}],"mark":{"type":"text","font":"DejaVu Sans","fontSize":14.5,"align":"center","baseline":"middle","color":"black"},"encoding":{"text":{"field":"text","type":"nominal"}}},
{"data":{"name":"texts"},"transform":[{"filter":"datum.panel==='a' && datum.kind==='trace'"}],"mark":{"type":"text","font":"DejaVu Sans","fontSize":13.6,"align":"left","baseline":"middle","color":"black"},"encoding":{"text":{"field":"text","type":"nominal"}}},
{"data":{"name":"texts"},"transform":[{"filter":"datum.panel==='a' && datum.kind==='title'"}],"mark":{"type":"text","font":"DejaVu Sans","fontSize":14,"align":"left","baseline":"middle","color":"black"},"encoding":{"text":{"field":"text","type":"nominal"}}},
{"data":{"name":"texts"},"transform":[{"filter":"datum.panel==='a' && datum.kind==='titleit'"}],"mark":{"type":"text","font":"DejaVu Sans","fontSize":14,"fontStyle":"italic","align":"left","baseline":"middle","color":"black"},"encoding":{"text":{"field":"text","type":"nominal"}}},
{"data":{"name":"texts"},"transform":[{"filter":"datum.panel==='a' && datum.kind==='scale'"}],"mark":{"type":"text","font":"Liberation Serif","fontSize":21,"angle":270,"align":"left","baseline":"middle","color":"black"},"encoding":{"text":{"field":"text","type":"nominal"}}},
{"data":{"name":"texts"},"transform":[{"filter":"datum.panel==='a' && datum.kind==='scaleit'"}],"mark":{"type":"text","font":"Liberation Serif","fontSize":21,"fontStyle":"italic","angle":270,"align":"left","baseline":"middle","color":"black"},"encoding":{"text":{"field":"text","type":"nominal"}}}
]
},
{
"width":537,"height":276,
"encoding":{
"x":{"field":"rf","type":"quantitative","scale":{"domain":[-0.1139,1.2153],"nice":false,"zero":false},"axis":null},
"y":{"field":"a","type":"quantitative","scale":{"domain":[0,0.88],"nice":false,"zero":false},"axis":null}
},
"layer":[
{"data":{"name":"traces"},"transform":[{"filter":"datum.panel==='b'"}],"mark":{"type":"line","color":"black","strokeWidth":2.1,"interpolate":"monotone"},"encoding":{"detail":{"field":"series","type":"nominal"}}},
{"data":{"name":"arrows"},"transform":[{"filter":"datum.panel==='b'"}],"mark":{"type":"rule","color":"black","strokeWidth":1.3},"encoding":{"y2":{"field":"a2"}}},
{"data":{"name":"arrows"},"transform":[{"filter":"datum.panel==='b'"}],"mark":{"type":"point","shape":"M0,0L-0.5,-1.8L0.5,-1.8Z","size":100,"filled":true,"color":"black","opacity":1,"strokeWidth":0},"encoding":{"y":{"field":"a2","type":"quantitative"}}},
{"data":{"name":"scalebars"},"transform":[{"filter":"datum.panel==='b'"}],"mark":{"type":"rule","color":"black","strokeWidth":2.4},"encoding":{"y2":{"field":"a2"}}},
{"data":{"name":"scalebars"},"transform":[{"filter":"datum.panel==='b'"}],"mark":{"type":"point","shape":"M0,0L-0.5,1.45L0.5,1.45Z","size":324,"filled":true,"color":"black","opacity":1,"strokeWidth":0},"encoding":{"y":{"field":"a2","type":"quantitative"}}},
{"data":{"name":"scalebars"},"transform":[{"filter":"datum.panel==='b'"}],"mark":{"type":"point","shape":"M0,0L-0.5,-1.45L0.5,-1.45Z","size":324,"filled":true,"color":"black","opacity":1,"strokeWidth":0}},
{"data":{"name":"texts"},"transform":[{"filter":"datum.panel==='b' && datum.kind==='num'"}],"mark":{"type":"text","font":"DejaVu Sans","fontSize":14.5,"align":"center","baseline":"middle","color":"black"},"encoding":{"text":{"field":"text","type":"nominal"}}},
{"data":{"name":"texts"},"transform":[{"filter":"datum.panel==='b' && datum.kind==='trace'"}],"mark":{"type":"text","font":"DejaVu Sans","fontSize":13.6,"align":"left","baseline":"middle","color":"black"},"encoding":{"text":{"field":"text","type":"nominal"}}},
{"data":{"name":"texts"},"transform":[{"filter":"datum.panel==='b' && datum.kind==='title'"}],"mark":{"type":"text","font":"DejaVu Sans","fontSize":14,"align":"left","baseline":"middle","color":"black"},"encoding":{"text":{"field":"text","type":"nominal"}}},
{"data":{"name":"texts"},"transform":[{"filter":"datum.panel==='b' && datum.kind==='titleit'"}],"mark":{"type":"text","font":"DejaVu Sans","fontSize":14,"fontStyle":"italic","align":"left","baseline":"middle","color":"black"},"encoding":{"text":{"field":"text","type":"nominal"}}},
{"data":{"name":"texts"},"transform":[{"filter":"datum.panel==='b' && datum.kind==='scale'"}],"mark":{"type":"text","font":"Liberation Serif","fontSize":21,"angle":270,"align":"left","baseline":"middle","color":"black"},"encoding":{"text":{"field":"text","type":"nominal"}}},
{"data":{"name":"texts"},"transform":[{"filter":"datum.panel==='b' && datum.kind==='scaleit'"}],"mark":{"type":"text","font":"Liberation Serif","fontSize":21,"fontStyle":"italic","angle":270,"align":"left","baseline":"middle","color":"black"},"encoding":{"text":{"field":"text","type":"nominal"}}}
]
},
{
"width":537,"height":272,
"encoding":{
"x":{"field":"rf","type":"quantitative","scale":{"domain":[-0.1139,1.2153],"nice":false,"zero":false},"axis":{"values":[0.05,0.25,0.5,0.75,0.95],"labelExpr":"datum.value > 0.1 && datum.value < 0.9 ? format(datum.value, '.2f') : ''","domain":false,"grid":false,"ticks":true,"tickSize":-6,"tickWidth":1.6,"tickColor":"black","labelFont":"DejaVu Sans","labelFontSize":13.5,"labelColor":"black","labelPadding":15,"labelOverlap":false,"labelFlush":false,"title":null}},
"y":{"field":"a","type":"quantitative","scale":{"domain":[0,0.46],"nice":false,"zero":false},"axis":null}
},
"layer":[
{"data":{"name":"traces"},"transform":[{"filter":"datum.panel==='c'"}],"mark":{"type":"line","color":"black","strokeWidth":2.1,"interpolate":"monotone"},"encoding":{"detail":{"field":"series","type":"nominal"}}},
{"data":{"values":[{"rf":0.05,"rf2":0.95,"a":0}]},"mark":{"type":"rule","color":"black","strokeWidth":2},"encoding":{"x2":{"field":"rf2"}}},
{"data":{"name":"arrows"},"transform":[{"filter":"datum.panel==='c'"}],"mark":{"type":"rule","color":"black","strokeWidth":1.4},"encoding":{"y2":{"field":"a2"}}},
{"data":{"name":"arrows"},"transform":[{"filter":"datum.panel==='c'"}],"mark":{"type":"point","shape":"M0,0L-0.5,-1.5L0.5,-1.5Z","size":144,"filled":true,"color":"black","opacity":1,"strokeWidth":0},"encoding":{"y":{"field":"a2","type":"quantitative"}}},
{"data":{"name":"scalebars"},"transform":[{"filter":"datum.panel==='c'"}],"mark":{"type":"rule","color":"black","strokeWidth":2.4},"encoding":{"y2":{"field":"a2"}}},
{"data":{"name":"scalebars"},"transform":[{"filter":"datum.panel==='c'"}],"mark":{"type":"point","shape":"M0,0L-0.5,1.45L0.5,1.45Z","size":324,"filled":true,"color":"black","opacity":1,"strokeWidth":0},"encoding":{"y":{"field":"a2","type":"quantitative"}}},
{"data":{"name":"scalebars"},"transform":[{"filter":"datum.panel==='c'"}],"mark":{"type":"point","shape":"M0,0L-0.5,-1.45L0.5,-1.45Z","size":324,"filled":true,"color":"black","opacity":1,"strokeWidth":0}},
{"data":{"name":"texts"},"transform":[{"filter":"datum.panel==='c' && datum.kind==='num'"}],"mark":{"type":"text","font":"DejaVu Sans","fontSize":14.5,"align":"center","baseline":"middle","color":"black"},"encoding":{"text":{"field":"text","type":"nominal"}}},
{"data":{"name":"texts"},"transform":[{"filter":"datum.panel==='c' && datum.kind==='trace'"}],"mark":{"type":"text","font":"DejaVu Sans","fontSize":13.6,"align":"left","baseline":"middle","color":"black"},"encoding":{"text":{"field":"text","type":"nominal"}}},
{"data":{"name":"texts"},"transform":[{"filter":"datum.panel==='c' && datum.kind==='title'"}],"mark":{"type":"text","font":"DejaVu Sans","fontSize":14,"align":"left","baseline":"middle","color":"black"},"encoding":{"text":{"field":"text","type":"nominal"}}},
{"data":{"name":"texts"},"transform":[{"filter":"datum.panel==='c' && datum.kind==='titleit'"}],"mark":{"type":"text","font":"DejaVu Sans","fontSize":14,"fontStyle":"italic","align":"left","baseline":"middle","color":"black"},"encoding":{"text":{"field":"text","type":"nominal"}}},
{"data":{"name":"texts"},"transform":[{"filter":"datum.panel==='c' && datum.kind==='scale'"}],"mark":{"type":"text","font":"Liberation Serif","fontSize":21,"angle":270,"align":"left","baseline":"middle","color":"black"},"encoding":{"text":{"field":"text","type":"nominal"}}},
{"data":{"name":"texts"},"transform":[{"filter":"datum.panel==='c' && datum.kind==='scaleit'"}],"mark":{"type":"text","font":"Liberation Serif","fontSize":21,"fontStyle":"italic","angle":270,"align":"left","baseline":"middle","color":"black"},"encoding":{"text":{"field":"text","type":"nominal"}}},
{"data":{"name":"texts"},"transform":[{"filter":"datum.panel==='c' && datum.kind==='axR'"}],"mark":{"type":"text","font":"Liberation Serif","fontSize":22,"fontStyle":"italic","align":"center","baseline":"alphabetic","color":"black"},"encoding":{"text":{"field":"text","type":"nominal"}}},
{"data":{"name":"texts"},"transform":[{"filter":"datum.panel==='c' && datum.kind==='axF'"}],"mark":{"type":"text","font":"Liberation Serif","fontSize":12,"fontStyle":"italic","align":"center","baseline":"alphabetic","color":"black"},"encoding":{"text":{"field":"text","type":"nominal"}}}
]
}
]
}
